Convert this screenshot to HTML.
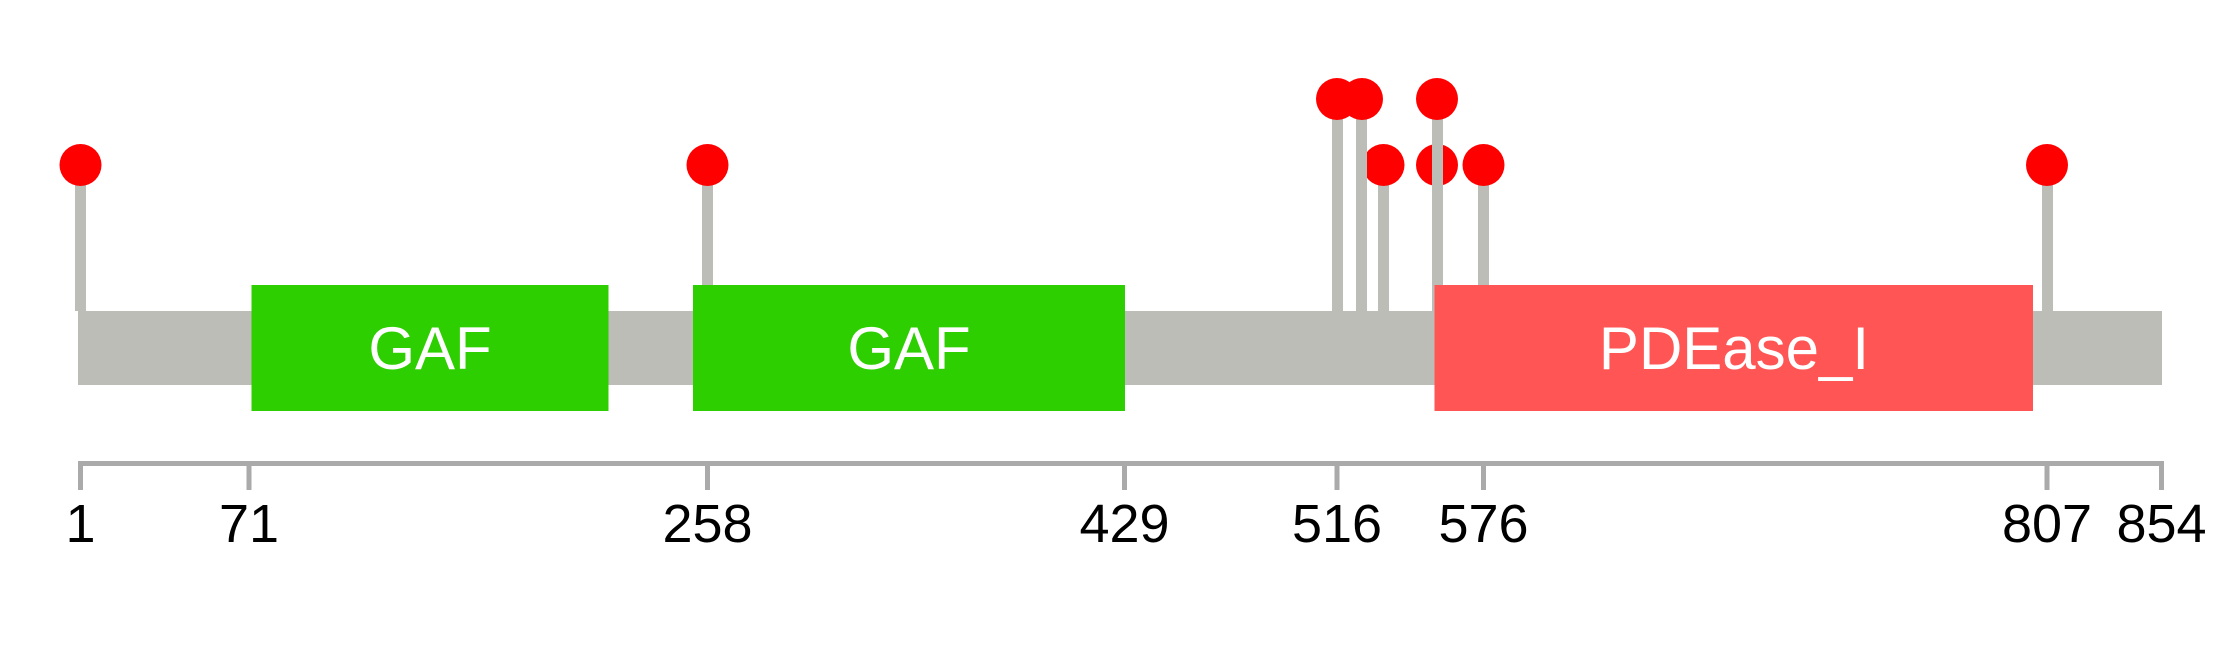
<!DOCTYPE html>
<html><head><meta charset="utf-8"><style>
html,body{margin:0;padding:0;background:#fff;}
svg{display:block;}
</style></head><body>
<svg width="2239" height="645" viewBox="0 0 2239 645" xmlns="http://www.w3.org/2000/svg">
<rect width="2239" height="645" fill="#fff"/>
<g fill="#BBBDB6">
<rect x="75" y="165" width="11" height="146"/>
<rect x="702" y="165" width="11" height="146"/>
<rect x="1378" y="165" width="11" height="146"/>
<rect x="1432" y="165" width="11" height="146"/>
<rect x="1478" y="165" width="11" height="146"/>
<rect x="2042" y="165" width="11" height="146"/>
</g>
<g fill="#FF0000">
<circle cx="80.5" cy="165" r="21"/>
<circle cx="707.5" cy="165" r="21"/>
<circle cx="1383.5" cy="165" r="21"/>
<circle cx="1437" cy="165" r="21"/>
<circle cx="1483.5" cy="165" r="21"/>
<circle cx="2047" cy="165" r="21"/>
</g>
<g fill="#BBBDB6">
<rect x="1332" y="100" width="11" height="211"/>
<rect x="1356" y="100" width="11" height="211"/>
<rect x="1432" y="100" width="11" height="211"/>
</g>
<g fill="#FF0000">
<circle cx="1337" cy="99" r="21"/>
<circle cx="1362" cy="99" r="21"/>
<circle cx="1437" cy="99" r="21"/>
</g>
<rect x="78" y="311" width="2084" height="74" fill="#BBBDB6"/>
<rect x="251.5" y="285" width="357" height="126" fill="#2ECF00"/>
<rect x="693" y="285" width="432" height="126" fill="#2ECF00"/>
<rect x="1434.5" y="285" width="598.5" height="126" fill="#FF5555"/>
<g font-family="Liberation Sans, Arial, sans-serif" font-size="60" fill="#fff" text-anchor="middle">
<text x="430" y="369">GAF</text>
<text x="909" y="369">GAF</text>
<text x="1734" y="369">PDEase_I</text>
</g>
<g fill="#AAAAAA">
<rect x="78" y="461" width="2084" height="5"/>
<rect x="78" y="461" width="5" height="29"/>
<rect x="246.5" y="461" width="5" height="29"/>
<rect x="705" y="461" width="5" height="29"/>
<rect x="1122" y="461" width="5" height="29"/>
<rect x="1334.5" y="461" width="5" height="29"/>
<rect x="1481" y="461" width="5" height="29"/>
<rect x="2044.5" y="461" width="5" height="29"/>
<rect x="2159" y="461" width="5" height="29"/>
</g>
<g font-family="Liberation Sans, Arial, sans-serif" font-size="54" fill="#000" text-anchor="middle">
<text x="80.5" y="542">1</text>
<text x="249" y="542">71</text>
<text x="707.5" y="542">258</text>
<text x="1124.5" y="542">429</text>
<text x="1337" y="542">516</text>
<text x="1483.5" y="542">576</text>
<text x="2047" y="542">807</text>
<text x="2161.5" y="542">854</text>
</g>
</svg>
</body></html>
